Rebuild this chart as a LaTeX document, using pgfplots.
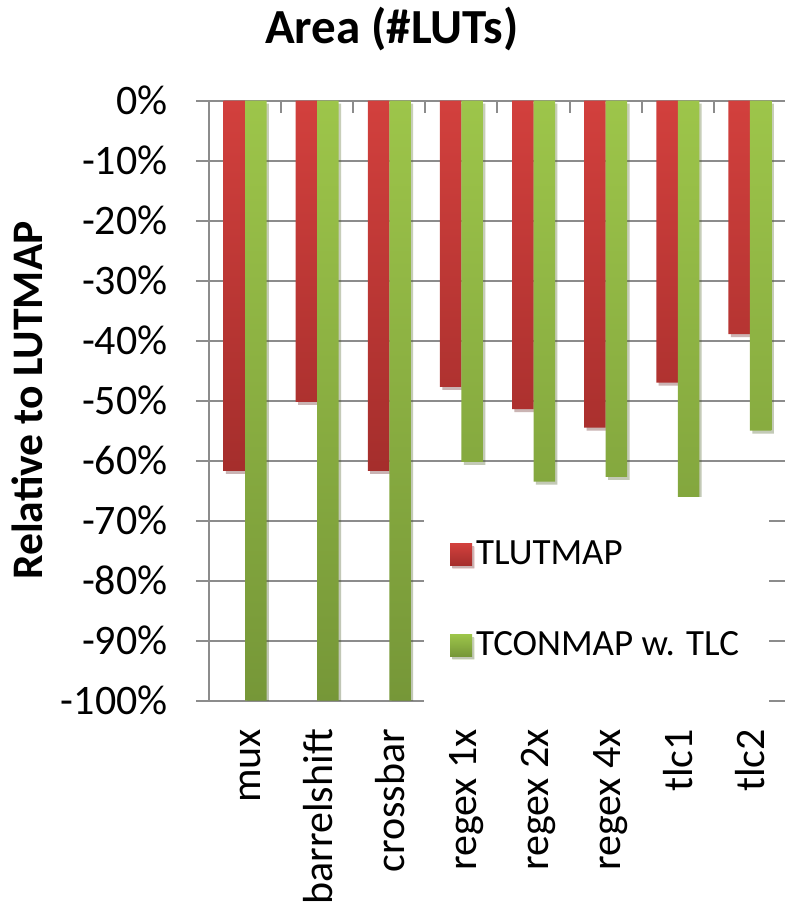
\documentclass[border=0pt]{standalone}
\usepackage{fontspec}
\setmainfont{Carlito}
\usepackage{pgfplots}
\pgfplotsset{compat=1.18}
\usetikzlibrary{shadows}
\definecolor{gridgray}{RGB}{140,140,140}
\definecolor{redtop}{RGB}{210,64,61}
\definecolor{redbot}{RGB}{165,46,44}
\definecolor{greentop}{RGB}{157,197,74}
\definecolor{greenbot}{RGB}{118,151,56}
\pgfplotsset{sqlegend/.style={legend image code/.code={\fill[##1, drop shadow={opacity=0}] (0pt,-5.5pt) rectangle (11pt,5.5pt);}}}
\tikzset{barshadow/.style={drop shadow={shadow xshift=1.2pt, shadow yshift=-1.5pt, fill=black, opacity=0.18}}}
\begin{document}
\begin{tikzpicture}
\begin{axis}[
  at={(104.5pt,103.65pt)}, anchor=south west,
  width=288.5pt, height=300pt, scale only axis,
  xmin=0.5, xmax=8.5, ymin=-100, ymax=0,
  axis lines*=left,
  axis line style={gridgray, line width=1pt},
  ymajorgrids, grid style={gridgray, line width=1pt},
  ytick={-100,-90,...,0},
  yticklabels={-100\%,-90\%,-80\%,-70\%,-60\%,-50\%,-40\%,-30\%,-20\%,-10\%,0\%},
  ytick style={gridgray, line width=1pt},
  tick align=outside, major tick length=6.5pt,
  yticklabel style={font=\fontsize{21}{25}\selectfont, inner sep=0pt, xshift=-14pt},
  xtick={1,...,8},
  xticklabels={mux,barrelshift,crossbar,regex 1x,regex 2x,regex 4x,tlc1,tlc2},
  xtick style={draw=none},
  xticklabel style={font=\fontsize{21}{25}\selectfont, rotate=90, anchor=base east, inner sep=0pt, yshift=-7.5pt},
  xticklabel shift=7.5pt,
  ybar=0pt, bar width=10.75pt,
  legend style={at={(axis description cs:0.372,0.34)}, anchor=north west, fill=white, draw=none,
    font=\fontsize{18.5}{22}\selectfont, row sep=28pt, inner xsep=13pt, inner ysep=20pt},
  legend cell align=left,
]
\addplot[draw=none, top color=redtop, bottom color=redbot, barshadow, sqlegend]
  coordinates {(1,-61.7) (2,-50.2) (3,-61.7) (4,-47.7) (5,-51.4) (6,-54.5) (7,-47.0) (8,-38.9)};
\addplot[draw=none, top color=greentop, bottom color=greenbot, barshadow, sqlegend]
  coordinates {(1,-100) (2,-100) (3,-100) (4,-60.2) (5,-63.5) (6,-62.7) (7,-66.2) (8,-55.0)};
\legend{TLUTMAP, TCONMAP w. TLC}
\pgfplotsinvokeforeach{1.5,2.5,3.5,4.5,5.5,6.5,7.5}{
  \draw[gridgray, line width=1pt] (axis cs:#1,0) -- ([yshift=-6pt]axis cs:#1,0);
}
\end{axis}
\node[font=\bfseries\fontsize{24.5}{28}\selectfont, anchor=base] at (196pt,432pt) {Area (\#LUTs)};
\node[font=\bfseries\fontsize{21.8}{25}\selectfont, rotate=90] at (13.5pt,253.75pt) {Relative to LUTMAP};
\pgfresetboundingbox
\path[use as bounding box] (0,0) rectangle (392pt,454pt);
\end{tikzpicture}
\end{document}
